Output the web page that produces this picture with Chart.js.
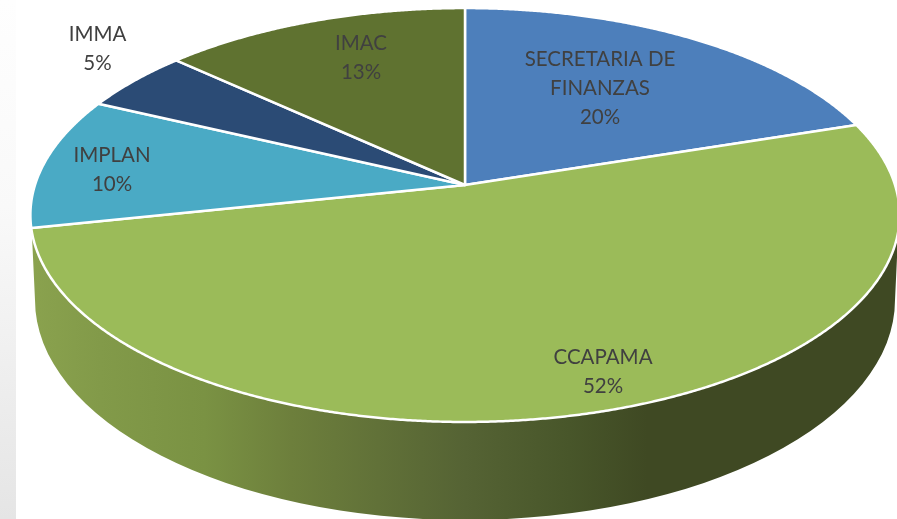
<!DOCTYPE html>
<html>
<head>
<meta charset="utf-8">
<style>
html,body{margin:0;padding:0;background:#fff;width:897px;height:519px;overflow:hidden}
#strip{position:absolute;left:0;top:0;width:16px;height:519px;background:linear-gradient(#fefefe 0%,#f9f9f9 40%,#e5e5e5 100%)}
canvas{position:absolute;left:0;top:0}
</style>
<script src="https://cdn.jsdelivr.net/npm/chart.js@4/dist/chart.umd.min.js"></script>
</head>
<body>
<div id="strip"></div>
<canvas id="c" width="897" height="519"></canvas>
<script>
const categories = [["SECRETARIA DE","FINANZAS"],["CCAPAMA"],["IMPLAN"],["IMMA"],["IMAC"]];
const percentValues = [20,51.7,10.3,4.8,13.2];
const sliceColors = ["#4d7fbb","#9bbb59","#4aaac5","#2b4b75","#5f7230"];
const labelCenters = [[600,88.5],[603,372],[112,170],[97.5,49],[361,58]];
const labelColor = "#404040";

// Perspective applied to the library's arcs (tilted 3D pie look)
const view = {a:430, b:202.6, k:0.145};
const wall = {cy:300, rx:430, ry:220, rimY:215, rimHalf:434};
const wallStops = [[0,"#8aa24e"],[0.08,"#829a49"],[0.2,"#7a9243"],[0.3,"#6d7f3c"],[0.5,"#556334"],[0.62,"#48562a"],[0.71,"#3f4923"],[1,"#3f4923"]];

function project(el, angle, r){
  const phi = angle + Math.PI/2;
  const u = Math.sin(phi)*r, v = -Math.cos(phi)*r;
  const d = 1 - view.k*v;
  return [el.x + view.a*u/d, el.y + view.b*v/d];
}
function perspectiveDraw(ctx){
  const o = this.options;
  ctx.save();
  ctx.beginPath();
  ctx.moveTo(this.x,this.y);
  const n = Math.max(2,Math.ceil((this.endAngle-this.startAngle)/0.005));
  for(let i=0;i<=n;i++){
    const p = project(this,this.startAngle+(this.endAngle-this.startAngle)*i/n,1);
    ctx.lineTo(p[0],p[1]);
  }
  ctx.closePath();
  ctx.fillStyle = o.backgroundColor;
  ctx.fill();
  ctx.lineJoin = "round";
  ctx.lineWidth = o.borderWidth;
  ctx.strokeStyle = o.borderColor;
  ctx.stroke();
  ctx.restore();
}
const pie3d = {
  id:"pie3d",
  afterDatasetsUpdate(chart){
    chart.getDatasetMeta(0).data.forEach(el=>{el.draw = perspectiveDraw;});
  },
  beforeDatasetsDraw(chart){
    const ctx = chart.ctx, el = chart.getDatasetMeta(0).data[0];
    const g = ctx.createLinearGradient(el.x-wall.rimHalf,0,el.x+wall.rimHalf,0);
    wallStops.forEach(s=>g.addColorStop(s[0],s[1]));
    ctx.save();
    ctx.beginPath();
    ctx.ellipse(el.x,wall.cy,wall.rx,wall.ry,0,0,Math.PI);
    ctx.lineTo(el.x-wall.rimHalf,wall.rimY);
    ctx.lineTo(el.x+wall.rimHalf,wall.rimY);
    ctx.closePath();
    ctx.fillStyle = g;
    ctx.fill();
    ctx.restore();
  },
  afterDatasetsDraw(chart){
    const ctx = chart.ctx;
    ctx.save();
    ctx.font = '20.5px Lato, "Open Sans", sans-serif';
    ctx.fillStyle = labelColor;
    ctx.textAlign = "center";
    ctx.textBaseline = "middle";
    categories.forEach((lines,i)=>{
      const all = lines.concat([Math.round(percentValues[i])+"%"]);
      const lh = 29;
      const top = labelCenters[i][1]-(all.length-1)*lh/2;
      all.forEach((t,j)=>ctx.fillText(t,labelCenters[i][0],top+j*lh));
    });
    ctx.restore();
  }
};
new Chart(document.getElementById("c"),{
  type:"pie",
  plugins:[pie3d],
  data:{
    labels:categories.map(c=>c.join(" ")),
    datasets:[{data:percentValues,backgroundColor:sliceColors,borderColor:"#ffffff",borderWidth:2.5}]
  },
  options:{
    responsive:false,
    animation:false,
    layout:{padding:{left:33,right:0,top:0,bottom:149}},
    plugins:{legend:{display:false},tooltip:{enabled:false}}
  }
});
</script>
</body>
</html>
